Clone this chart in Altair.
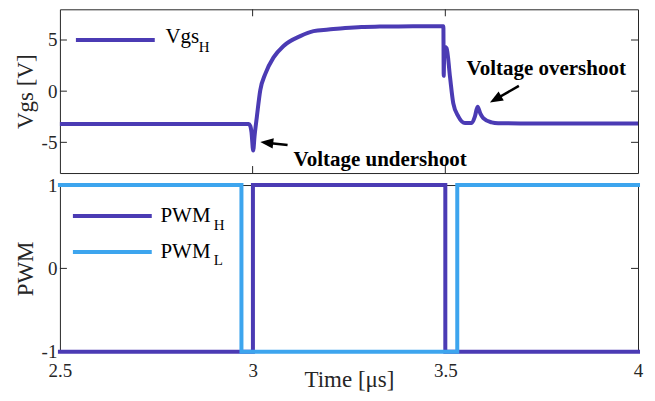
import altair as alt
import pandas as pd

# ---------------- data ----------------
# Vgs_H waveform, time in microseconds, voltage in V
vgs_t = [2.5, 2.9896, 2.994, 2.997, 3.0015, 3.005, 3.0111, 3.0199, 3.0329, 3.0544,
         3.0803, 3.1236, 3.158, 3.1969, 3.24, 3.2824, 3.33, 3.3782, 3.43, 3.4950,
         3.4958, 3.4975, 3.5034, 3.5122, 3.5207, 3.5337, 3.551, 3.5681, 3.5769,
         3.5837, 3.5910, 3.5984, 3.62, 3.637, 3.70, 4.0]
vgs_v = [-3.2, -3.2, -3.4, -4.0, -5.8, -4.4, -2.47, 0.1, 1.69, 3.30,
         4.42, 5.38, 5.87, 6.02, 6.18, 6.28, 6.31, 6.33, 6.34, 6.35,
         1.5, 4.35, 4.2, 1.38, -1.19, -2.47, -3.12, -3.12, -2.47,
         -1.51, -2.2, -2.63, -3.05, -3.14, -3.15, -3.15]

# PWM signals
pwmh_t = [2.5, 3.0008, 3.0008, 3.5, 3.5, 4.0]
pwmh_v = [-1, -1, 1, 1, -1, -1]
pwml_t = [2.5, 2.971, 2.971, 3.531, 3.531, 4.0]
pwml_v = [1, 1, -1, -1, 1, 1]

# tick values
x_ticks = [2.5, 3, 3.5, 4]
x_inner_ticks = [3, 3.5]
vgs_ticks = [-5, 0, 5]
pwm_ticks = [-1, 0, 1]

# annotations (data coordinates)
ann_text = ["Voltage undershoot", "Voltage overshoot"]
ann_text_t = [3.1062, 3.5552]
ann_text_v = [-7.28, 1.60]
arrow_tail_t = [3.0907, 3.6909]
arrow_tail_v = [-5.26, 0.51]
arrow_shaft_end_t = [3.0354, 3.6293]
arrow_shaft_end_v = [-5.04, -0.81]
arrow_tip_t = [3.0199, 3.6158]
arrow_tip_v = [-4.97, -1.10]
arrow_angle = [276.3, 240.1]

# legend entries
leg1_line_t = [2.5415, 2.7461]
leg1_line_v = 5.0
leg1_text = ("Vgs", "H")
leg1_text_t = [2.7738, 2.8601]
leg1_text_v = [4.74, 3.78]

leg2_line_t = [2.5337, 2.7383]
leg2_line_v = [0.629, 0.198]
leg2_main_t = 2.7609
leg2_main_v = [0.557, 0.127]
leg2_sub = ["H", "L"]
leg2_sub_t = 2.899
leg2_sub_v = [0.457, 0.042]

# ---------------- styling ----------------
PURPLE = "#4B3BB4"
BLUE = "#3DA5EE"
INK = "#262626"
FONT = "Liberation Serif"
W = 579
H1 = 164
H2 = 167

xscale = alt.Scale(domain=[2.5, 4], nice=False, zero=False)
y1scale = alt.Scale(domain=[-8, 8], nice=False, zero=False)
y2scale = alt.Scale(domain=[-1, 1], nice=False, zero=False)

X1 = alt.X("t:Q", scale=xscale, axis=None)
Y1 = alt.Y("v:Q", scale=y1scale,
           axis=alt.Axis(values=vgs_ticks, title="Vgs [V]", ticks=False, tickSize=0,
                         domain=False, grid=False, labelExpr="toString(datum.value)",
                         labelPadding=3, titlePadding=4))
X2 = alt.X("t:Q", scale=xscale,
           axis=alt.Axis(values=x_ticks, title="Time [μs]", ticks=False, tickSize=0,
                         domain=False, grid=False, labelExpr="toString(datum.value)",
                         labelPadding=10, titleY=35, titleBaseline="alphabetic",
                         labelFlush=False, labelOverlap=False))
Y2 = alt.Y("v:Q", scale=y2scale,
           axis=alt.Axis(values=pwm_ticks, title="PWM", ticks=False, tickSize=0,
                         domain=False, grid=False, labelExpr="toString(datum.value)",
                         labelPadding=3, titlePadding=4))

ARROW = "M0,0 L0.4,1 L-0.4,1 Z"


def inward_ticks(X, Y, yvals, xvals, h):
    ly = pd.DataFrame({"v": yvals})
    lx = pd.DataFrame({"t": xvals})
    r = dict(color=INK, strokeWidth=1)
    return [
        alt.Chart(ly).mark_rule(**r).encode(y=Y, x=alt.value(0), x2=alt.value(7)),
        alt.Chart(ly).mark_rule(**r).encode(y=Y, x=alt.value(W - 7), x2=alt.value(W)),
        alt.Chart(lx).mark_rule(**r).encode(x=X, y=alt.value(0), y2=alt.value(7)),
        alt.Chart(lx).mark_rule(**r).encode(x=X, y=alt.value(h - 7), y2=alt.value(h)),
    ]


# ---------------- top panel ----------------
vgs_df = pd.DataFrame({"t": vgs_t, "v": vgs_v, "i": list(range(len(vgs_t)))})
vgs_line = alt.Chart(vgs_df).mark_line(
    color=PURPLE, strokeWidth=4, strokeJoin="round", strokeCap="butt", interpolate="monotone"
).encode(x=X1, y=Y1, order="i:Q")

ann_df = pd.DataFrame({"t": ann_text_t, "v": ann_text_v, "label": ann_text})
ann = alt.Chart(ann_df).mark_text(
    font=FONT, fontSize=21, fontWeight="bold", align="left", baseline="alphabetic", color="black"
).encode(x=X1, y=Y1, text="label:N")

shaft_df = pd.DataFrame({"t": arrow_tail_t, "v": arrow_tail_v,
                         "t2": arrow_shaft_end_t, "v2": arrow_shaft_end_v})
shaft = alt.Chart(shaft_df).mark_rule(color="black", strokeWidth=2.5).encode(
    x=X1, y=Y1, x2="t2:Q", y2="v2:Q")

head_df = pd.DataFrame({"t": arrow_tip_t, "v": arrow_tip_v, "a": arrow_angle})
head = alt.Chart(head_df).mark_point(
    shape=ARROW, filled=True, size=676, color="black", opacity=1, strokeWidth=0
).encode(x=X1, y=Y1, angle=alt.Angle("a:Q", scale=None))

leg1_line_df = pd.DataFrame({"t": [leg1_line_t[0]], "v": [leg1_line_v], "t2": [leg1_line_t[1]]})
leg1_line = alt.Chart(leg1_line_df).mark_rule(color=PURPLE, strokeWidth=4).encode(
    x=X1, y=Y1, x2="t2:Q")
leg1_main = alt.Chart(pd.DataFrame({"t": [leg1_text_t[0]], "v": [leg1_text_v[0]],
                                    "s": [leg1_text[0]]})).mark_text(
    font=FONT, fontSize=21, align="left", baseline="alphabetic", color="black"
).encode(x=X1, y=Y1, text="s:N")
leg1_sub = alt.Chart(pd.DataFrame({"t": [leg1_text_t[1]], "v": [leg1_text_v[1]],
                                   "s": [leg1_text[1]]})).mark_text(
    font=FONT, fontSize=15, align="left", baseline="alphabetic", color="black"
).encode(x=X1, y=Y1, text="s:N")

top = alt.layer(
    *inward_ticks(X1, Y1, vgs_ticks, x_inner_ticks, H1),
    vgs_line, shaft, head, ann, leg1_line, leg1_main, leg1_sub
).properties(width=W, height=H1)

# ---------------- bottom panel ----------------
layers2 = inward_ticks(X2, Y2, pwm_ticks, x_inner_ticks, H2)
for tt, vv, col in [(pwmh_t, pwmh_v, PURPLE), (pwml_t, pwml_v, BLUE)]:
    df = pd.DataFrame({"t": tt, "v": vv, "i": list(range(len(tt)))})
    layers2.append(
        alt.Chart(df).mark_line(color=col, strokeWidth=4, strokeJoin="miter", strokeCap="square")
        .encode(x=X2, y=Y2, order="i:Q"))

for k, col in enumerate([PURPLE, BLUE]):
    ldf = pd.DataFrame({"t": [leg2_line_t[0]], "v": [leg2_line_v[k]], "t2": [leg2_line_t[1]]})
    layers2.append(alt.Chart(ldf).mark_rule(color=col, strokeWidth=4).encode(
        x=X2, y=Y2, x2="t2:Q"))
    tdf = pd.DataFrame({"t": [leg2_main_t], "v": [leg2_main_v[k]], "s": ["PWM"]})
    layers2.append(alt.Chart(tdf).mark_text(
        font=FONT, fontSize=21, align="left", baseline="alphabetic", color="black"
    ).encode(x=X2, y=Y2, text="s:N"))
    sdf = pd.DataFrame({"t": [leg2_sub_t], "v": [leg2_sub_v[k]], "s": [leg2_sub[k]]})
    layers2.append(alt.Chart(sdf).mark_text(
        font=FONT, fontSize=15, align="left", baseline="alphabetic", color="black"
    ).encode(x=X2, y=Y2, text="s:N"))

bottom = alt.layer(*layers2).properties(width=W, height=H2)

chart = alt.vconcat(top, bottom, spacing=12, bounds="flush").properties(
    padding={"left": 5, "top": 0, "right": 0, "bottom": 0},
    background="white",
).configure_view(
    stroke=INK, strokeWidth=1
).configure_axis(
    labelFont=FONT, labelFontSize=19, labelColor=INK,
    titleFont=FONT, titleFontSize=23, titleFontWeight="normal", titleColor=INK,
)

chart.save("out.html", embed_options={"renderer": "svg", "actions": False})
